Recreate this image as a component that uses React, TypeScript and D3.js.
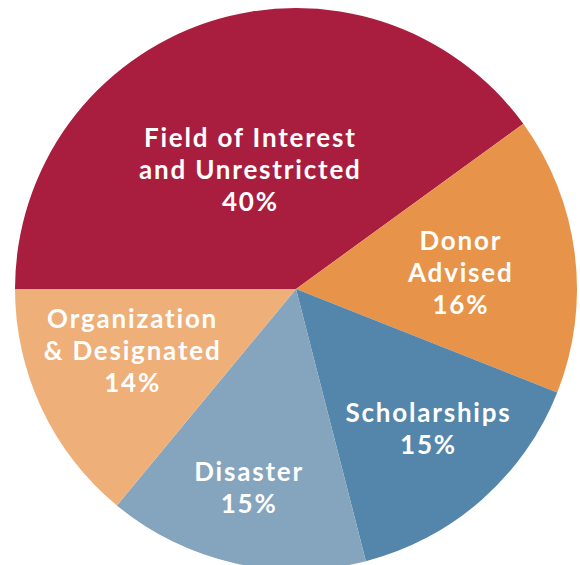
import * as d3 from 'd3';
import React, { useRef, useEffect } from 'react';

const width = 580;
const height = 565;

const categories = ['Field of Interest|and Unrestricted', 'Donor|Advised', 'Scholarships', 'Disaster', 'Organization|& Designated'];
const values = [40, 16, 15, 15, 14];
const colors = ['#A91D3F', '#E8934A', '#5386AA', '#85A4BD', '#EEAF79'];
// label placement: share of the radius, and a small turn (degrees) off the slice middle
const labelRadius = [0.46, 0.59, 0.68, 0.72, 0.62];
const labelTurn = [-2.7, 1, -2.5, 0.8, 4.9];

const App = () => {
  const svgRef = useRef<SVGSVGElement>(null);

  useEffect(() => {
    const cx = 296;
    const cy = 289;
    const r = 281;

    const svg = d3.select(svgRef.current);
    svg.selectAll('*').remove();

    const g = svg.append('g').attr('transform', `translate(${cx},${cy})`);

    const pie = d3.pie<number>()
      .sort(null)
      .startAngle(-Math.PI / 2)
      .endAngle(Math.PI * 1.5);
    const arcs = pie(values);

    const arc = d3.arc<d3.PieArcDatum<number>>().innerRadius(0).outerRadius(r);

    g.selectAll('path')
      .data(arcs)
      .join('path')
      .attr('d', arc)
      .attr('fill', (_, i) => colors[i]);

    const lineH = 32;
    arcs.forEach((a, i) => {
      const mid = (a.startAngle + a.endAngle) / 2 + (labelTurn[i] * Math.PI) / 180;
      const lr = r * labelRadius[i];
      const x = lr * Math.sin(mid);
      const y = -lr * Math.cos(mid);
      const lines = categories[i].split('|').concat([`${values[i]}%`]);
      const text = g.append('text')
        .attr('text-anchor', 'middle')
        .attr('fill', '#fff')
        .style('font-family', 'Lato, "Noto Sans", sans-serif')
        .style('font-weight', 700)
        .style('font-size', '26px')
        .style('letter-spacing', '1.8px');
      const top = y - ((lines.length - 1) * lineH) / 2 + 11;
      lines.forEach((ln, j) => {
        text.append('tspan')
          .attr('x', x)
          .attr('y', top + j * lineH)
          .text(ln);
      });
    });
  }, []);

  return (
    <svg ref={svgRef} width={width} height={height} style={{ position: 'absolute', left: 0, top: 0 }} />
  );
};

export default App;
